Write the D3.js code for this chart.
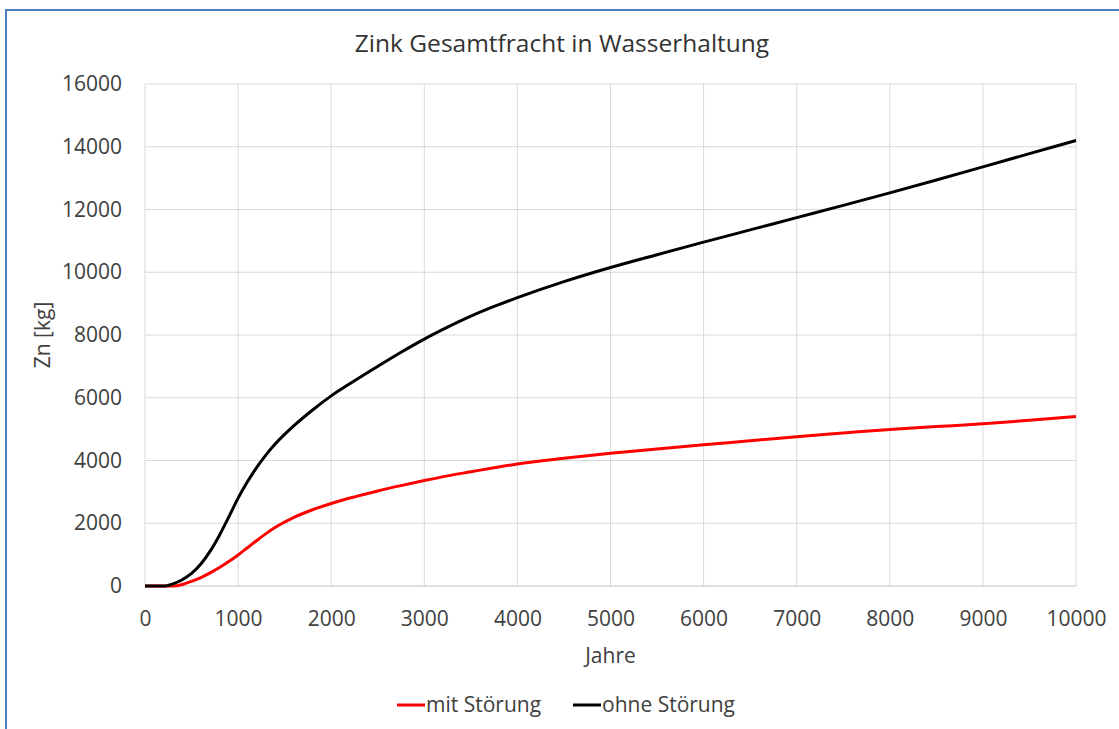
<!DOCTYPE html>
<html>
<head>
<meta charset="utf-8">
<script src="https://cdn.jsdelivr.net/npm/d3@7"></script>
<style>
  html, body { margin: 0; padding: 0; background: #fff; }
  svg { display: block; }
  text { font-family: "Open Sans", "Noto Sans", sans-serif; fill: #404040; }
</style>
</head>
<body>
<svg id="chart" width="1119" height="729"></svg>
<script>
// Zinc total load in mine water drainage, years 0..10000
const years = [0, 200, 300, 400, 500, 600, 700, 800, 900, 1000, 1100, 1200, 1300, 1400,
  1600, 1800, 2000, 2250, 2500, 2750, 3000, 3250, 3500, 3750, 4000, 4500, 5000, 5500,
  6000, 6500, 7000, 7500, 8000, 8500, 9000, 9500, 10000];
const mitStoerung = [0, 0, 0, 50, 150, 270, 420, 590, 780, 990, 1220, 1450, 1670, 1870,
  2190, 2430, 2630, 2840, 3030, 3200, 3360, 3510, 3640, 3770, 3890, 4070, 4230, 4370,
  4500, 4630, 4760, 4875, 4990, 5080, 5170, 5280, 5400];
const ohneStoerung = [0, 0, 70, 200, 400, 700, 1110, 1620, 2200, 2800, 3320, 3780, 4180, 4530,
  5110, 5610, 6060, 6540, 7000, 7450, 7870, 8250, 8600, 8910, 9190, 9700, 10150, 10560,
  10960, 11350, 11740, 12130, 12530, 12940, 13360, 13780, 14200];
const xTicks = [0, 1000, 2000, 3000, 4000, 5000, 6000, 7000, 8000, 9000, 10000];
const yTicks = [0, 2000, 4000, 6000, 8000, 10000, 12000, 14000, 16000];
const seriesNames = ["mit Störung", "ohne Störung"];
const seriesColors = ["#ff0000", "#000000"];

const svg = d3.select("#chart");
const plot = { left: 145, right: 1076, top: 84, bottom: 586 };

const x = d3.scaleLinear().domain([0, 10000]).range([plot.left, plot.right]);
const y = d3.scaleLinear().domain([0, 16000]).range([plot.bottom, plot.top]);

// frame around the chart
svg.append("rect")
  .attr("x", 6).attr("y", 10)
  .attr("width", 1200).attr("height", 800)
  .attr("fill", "none")
  .attr("stroke", "#4a7ebf").attr("stroke-width", 2);

// title
svg.append("text")
  .attr("x", 562).attr("y", 52)
  .attr("text-anchor", "middle")
  .style("font-size", "24.5px")
  .style("fill", "#333")
  .text("Zink Gesamtfracht in Wasserhaltung");

// gridlines
svg.append("g").selectAll("line").data(xTicks).join("line")
  .attr("x1", d => x(d)).attr("x2", d => x(d))
  .attr("y1", plot.top).attr("y2", plot.bottom)
  .attr("stroke", "#d9d9d9").attr("stroke-width", 1);
svg.append("g").selectAll("line").data(yTicks).join("line")
  .attr("x1", plot.left).attr("x2", plot.right)
  .attr("y1", d => y(d)).attr("y2", d => y(d))
  .attr("stroke", d => d === 0 ? "#bfbfbf" : "#d9d9d9").attr("stroke-width", 1);

// axes (labels only, no tick marks)
const xAxis = d3.axisBottom(x).tickValues(xTicks).tickSize(0).tickPadding(25).tickFormat(d3.format("d"));
const gx = svg.append("g").attr("transform", `translate(0,${plot.bottom})`).call(xAxis);
gx.select(".domain").remove();
gx.selectAll("text").style("font-size", "21px").style("font-family", null);

const yAxis = d3.axisLeft(y).tickValues(yTicks).tickSize(0).tickPadding(23).tickFormat(d3.format("d"));
const gy = svg.append("g").attr("transform", `translate(${plot.left},0)`).call(yAxis);
gy.select(".domain").remove();
gy.selectAll("text").style("font-size", "21px").style("font-family", null);

// axis titles
svg.append("text")
  .attr("x", (plot.left + plot.right) / 2).attr("y", 663)
  .attr("text-anchor", "middle")
  .style("font-size", "21px")
  .text("Jahre");
svg.append("text")
  .attr("transform", `translate(50,${(plot.top + plot.bottom) / 2}) rotate(-90)`)
  .attr("text-anchor", "middle")
  .style("font-size", "21px")
  .text("Zn [kg]");

// series lines
const line = d3.line().x((d, i) => x(years[i])).y(d => y(d)).curve(d3.curveMonotoneX);
[mitStoerung, ohneStoerung].forEach((vals, k) => {
  svg.append("path")
    .datum(vals)
    .attr("d", line)
    .attr("fill", "none")
    .attr("stroke", seriesColors[k])
    .attr("stroke-width", 3)
    .attr("stroke-linejoin", "round");
});

// legend
const legendX = [397, 573];
const legend = svg.append("g");
seriesNames.forEach((name, k) => {
  legend.append("line")
    .attr("x1", legendX[k]).attr("x2", legendX[k] + 28)
    .attr("y1", 705).attr("y2", 705)
    .attr("stroke", seriesColors[k]).attr("stroke-width", 3);
  legend.append("text")
    .attr("x", legendX[k] + 29).attr("y", 712)
    .style("font-size", "21px")
    .text(name);
});
</script>
</body>
</html>
